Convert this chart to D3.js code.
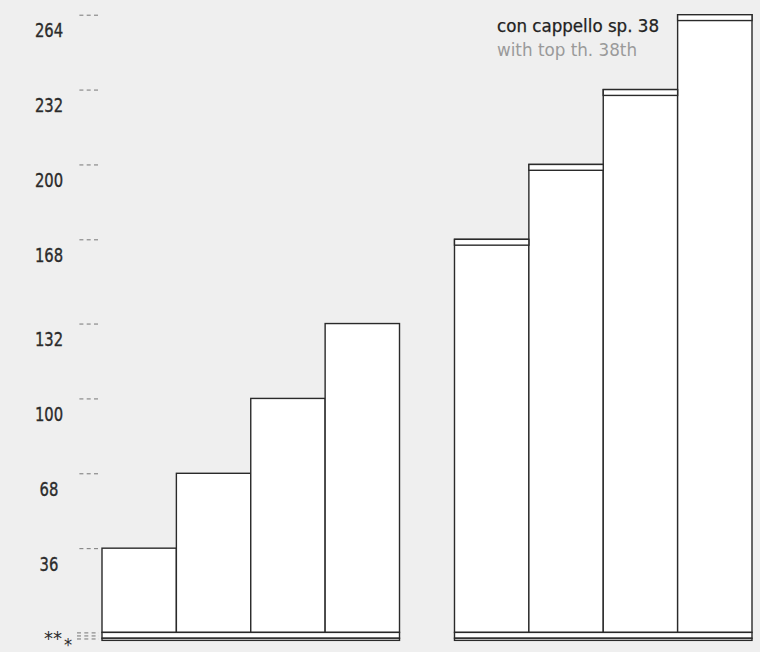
<!DOCTYPE html>
<html><head><meta charset="utf-8">
<script src="https://cdn.jsdelivr.net/npm/d3@7"></script>
<style>
html,body{margin:0;padding:0;background:#efefef;}
svg{display:block;}
text{font-family:"DejaVu Sans Condensed","DejaVu Sans",sans-serif;}
</style></head>
<body>
<svg id="chart" width="760" height="652"></svg>
<script>
// ---- data ----
const flights = ["lower", "upper"];
const lowerSteps = [36, 68, 100, 132];
const upperSteps = [168, 200, 232, 264];
const capThickness = 2.5;            // top slab ("cappello") thickness, in chart units
const baseLayers = [0, -2.5, -3.4];  // floor layers below the bars
const tickValues = [36, 68, 100, 132, 168, 200, 232, 264];
const baseTicks = [0, -1.3, -2.6];
const baseLabels = ["**", "*"];
const legendLines = ["con cappello sp. 38", "with top th. 38th"];

// ---- layout ----
const svg = d3.select("#chart");
const W = 760, H = 652;
svg.append("rect").attr("width", W).attr("height", H).attr("fill", "#efefef");

const y = d3.scaleLinear().domain([0, 264]).range([632.4, 14.7]);
const xGroup = d3.scaleBand().domain(flights).range([102, 752]).paddingInner(0.156).paddingOuter(0);
const xStep = d3.scaleBand().domain(d3.range(4)).range([0, xGroup.bandwidth()]).padding(0);

const data = [
  {flight: "lower", steps: lowerSteps, cap: false},
  {flight: "upper", steps: upperSteps, cap: true}
];

const stroke = "#2a2a2a";
const labelColor = "#2b2b2b";

// axis ticks (dashed)
const axis = d3.axisLeft(y).tickValues(tickValues).tickSize(21).tickPadding(0).tickFormat(d3.format("d"));
const ag = svg.append("g").attr("transform", "translate(98,0)").call(axis);
ag.select(".domain").remove();
ag.selectAll(".tick line").attr("stroke", "#777").attr("stroke-dasharray", "4,3.3").attr("stroke-width", 1);
ag.selectAll(".tick text")
  .attr("x", -49).attr("dy", null).attr("y", 22)
  .attr("text-anchor", "middle")
  .attr("fill", labelColor).attr("font-size", 20)
  .attr("stroke", labelColor).attr("stroke-width", 0.35)
  .attr("textLength", d => String(d).length * 9.4)
  .attr("lengthAdjust", "spacingAndGlyphs")
  .style("font-family", '"DejaVu Sans Condensed","DejaVu Sans",sans-serif');

// base ticks
svg.append("g").selectAll("line").data(baseTicks).join("line")
  .attr("x1", 77).attr("x2", 99)
  .attr("y1", d => y(d) + 0.5).attr("y2", d => y(d) + 0.5)
  .attr("stroke", "#777").attr("stroke-dasharray", "4,3.3");

svg.append("text").attr("x", 44).attr("y", y(0) + 13).attr("text-anchor", "start")
  .attr("font-size", 20).attr("fill", labelColor)
  .attr("textLength", 18).attr("lengthAdjust", "spacingAndGlyphs").text(baseLabels[0]);
svg.append("text").attr("x", 64).attr("y", y(0) + 19).attr("text-anchor", "start")
  .attr("font-size", 18).attr("fill", labelColor).text(baseLabels[1]);

// bars
data.forEach(g => {
  const gx = xGroup(g.flight);
  const grp = svg.append("g").attr("transform", `translate(${gx},0)`);
  grp.selectAll("rect.bar").data(g.steps).join("rect").attr("class", "bar")
    .attr("x", (d, i) => xStep(i)).attr("width", xStep.bandwidth())
    .attr("y", d => y(d)).attr("height", d => y(0) - y(d))
    .attr("fill", "#fff").attr("stroke", stroke).attr("stroke-width", 1.4);
  if (g.cap) {
    grp.selectAll("rect.cap").data(g.steps).join("rect").attr("class", "cap")
      .attr("x", (d, i) => xStep(i)).attr("width", xStep.bandwidth())
      .attr("y", d => y(d)).attr("height", d => y(d - capThickness) - y(d))
      .attr("fill", "#fff").attr("stroke", stroke).attr("stroke-width", 1.4);
  }
  // floor layers
  for (let k = 0; k < baseLayers.length - 1; k++) {
    grp.append("rect")
      .attr("x", 0).attr("width", xGroup.bandwidth())
      .attr("y", y(baseLayers[k])).attr("height", y(baseLayers[k + 1]) - y(baseLayers[k]))
      .attr("fill", "#fff").attr("stroke", stroke).attr("stroke-width", 1.4);
  }
});

// legend
svg.append("text").attr("x", 497).attr("y", 32).attr("font-size", 18)
  .attr("textLength", 162).attr("lengthAdjust", "spacingAndGlyphs")
  .attr("stroke", "#222").attr("stroke-width", 0.25)
  .attr("fill", "#222").text(legendLines[0]);
svg.append("text").attr("x", 497).attr("y", 56).attr("font-size", 18)
  .attr("textLength", 140).attr("lengthAdjust", "spacingAndGlyphs")
  .attr("fill", "#9a9a9a").text(legendLines[1]);
</script>
</body></html>
